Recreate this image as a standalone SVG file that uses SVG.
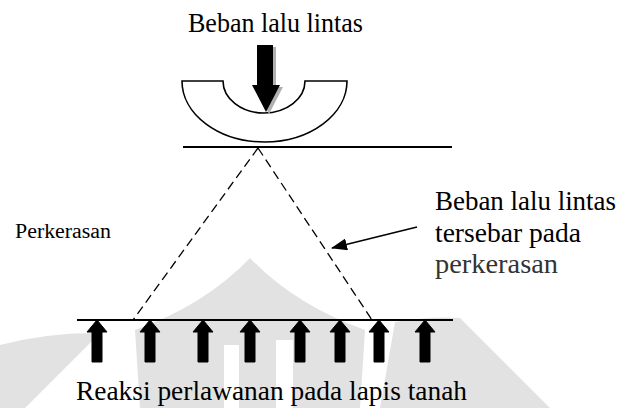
<svg xmlns="http://www.w3.org/2000/svg" width="621" height="408" viewBox="0 0 621 408">
  <style>
    .rule { stroke: #000; stroke-width: 2; fill: none; }
    .dash { stroke: #000; stroke-width: 1.3; stroke-dasharray: 9 5; fill: none; }
    .wm { fill: #e2e2e2; }
    .gap { fill: #fff; }
  </style>
  <defs>
    <!-- upward reaction arrow, tip at origin -->
    <path id="up" d="M0,0 L10,12 L5,12 L5,42 L-5,42 L-5,12 L-10,12 Z" fill="#000" stroke="#000" stroke-width="1" stroke-linejoin="round"/>
    <marker id="head" markerWidth="16" markerHeight="12" refX="15" refY="6" orient="auto" markerUnits="userSpaceOnUse">
      <path d="M0,0 L16,6 L0,12 Z" fill="#000"/>
    </marker>
  </defs>

  <rect width="621" height="408" fill="#fff"/>

  <!-- faint background emblem -->
  <g id="emblem">
    <path class="wm" d="M250,258 Q205,305 135,330 L140,408 L360,408 L365,330 Q295,305 250,258 Z"/>
    <rect class="gap" x="224" y="345" width="15" height="63"/>
    <rect class="gap" x="276" y="340" width="17" height="68"/>
    <path class="wm" d="M0,345 Q50,332 100,333 L25,408 L0,408 Z"/>
    <path class="wm" d="M395,322 Q430,316 460,318 L550,408 L380,408 Z"/>
  </g>

  <!-- wheel with load arrow -->
  <g id="wheel">
    <path d="M182,81 L223,81 A41,32 0 0 0 305,81 L347,81 A82.5,61 0 0 1 182,81 Z" fill="#fff" stroke="#000" stroke-width="1.6"/>
    <path d="M260,47 L276,47 L276,87 L283,87 L269,114 L255,87 L260,87 Z" fill="#b0b0b0"/>
    <path d="M257,45 L273,45 L273,85 L280,85 L266,112 L252,85 L257,85 Z" fill="#000"/>
  </g>

  <g id="load-label" font-family="Liberation Serif, Times New Roman, serif">
    <text x="188" y="32" font-size="28" textLength="175" lengthAdjust="spacingAndGlyphs">Beban lalu lintas</text>
  </g>

  <!-- pavement surface and subgrade boundary -->
  <g id="pavement">
    <line class="rule" x1="183" y1="147" x2="452" y2="147"/>
    <line class="rule" x1="77" y1="320" x2="453" y2="320"/>
    <text x="15" y="238" font-size="20" textLength="96" lengthAdjust="spacingAndGlyphs" font-family="Liberation Serif, Times New Roman, serif">Perkerasan</text>
  </g>

  <g id="spread-label" font-family="Liberation Serif, Times New Roman, serif" font-size="27">
    <text x="435" y="210" textLength="181" lengthAdjust="spacingAndGlyphs">Beban lalu lintas</text>
    <text x="435" y="242" textLength="146" lengthAdjust="spacingAndGlyphs">tersebar pada</text>
    <text x="435" y="273" textLength="123" lengthAdjust="spacingAndGlyphs" fill="#333">perkerasan</text>
  </g>

  <g id="reactions">
    <use href="#up" x="97" y="320"/>
    <use href="#up" x="150" y="320"/>
    <use href="#up" x="203" y="320"/>
    <use href="#up" x="250" y="320"/>
    <use href="#up" x="300" y="320"/>
    <use href="#up" x="340" y="320"/>
    <use href="#up" x="379" y="320"/>
    <use href="#up" x="425" y="320"/>
  </g>

  <g id="reaction-label" font-family="Liberation Serif, Times New Roman, serif">
    <text x="76" y="400" font-size="28" textLength="391" lengthAdjust="spacingAndGlyphs">Reaksi perlawanan pada lapis tanah</text>
  </g>

  <!-- load spreading lines and leader -->
  <g id="connectors">
    <line class="dash" x1="258" y1="148" x2="133" y2="320"/>
    <line class="dash" x1="258" y1="148" x2="372" y2="320"/>
    <line x1="417" y1="227" x2="332" y2="248" stroke="#000" stroke-width="1.6" marker-end="url(#head)"/>
  </g>
</svg>
